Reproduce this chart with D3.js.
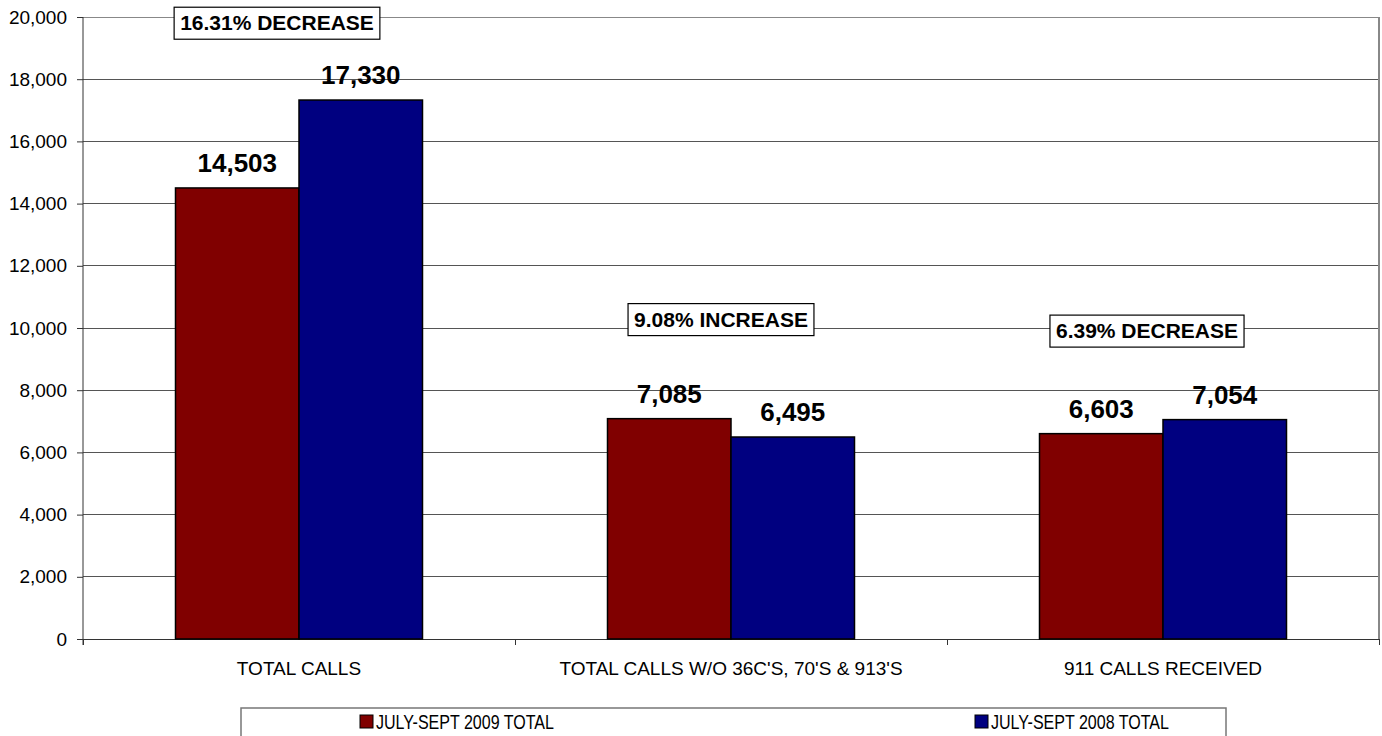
<!DOCTYPE html>
<html lang="en">
<head>
<meta charset="UTF-8">
<title>Calls comparison</title>
<style>
  body { margin: 0; background: #fff; }
  svg { display: block; font-family: Arial, "Liberation Sans", sans-serif; }
</style>
</head>
<body>
<div id="chart"></div>
<script src="https://cdn.jsdelivr.net/npm/d3@7"></script>
<script>
// data
var categories = ["TOTAL CALLS", "TOTAL CALLS W/O 36C'S, 70'S & 913'S", "911 CALLS RECEIVED"];
var seriesNames = ["JULY-SEPT 2009 TOTAL", "JULY-SEPT 2008 TOTAL"];
var values2009 = [14503, 7085, 6603];
var values2008 = [17330, 6495, 7054];
var changeLabels = ["16.31% DECREASE", "9.08% INCREASE", "6.39% DECREASE"];
var changeLevels = [19800, 10270, 9900];
var yTicks = [0, 2000, 4000, 6000, 8000, 10000, 12000, 14000, 16000, 18000, 20000];

var colors = ["#800000", "#000080"];

var W = 1382, H = 736;
var margin = { top: 17, right: 3, bottom: 97, left: 83 };
var width = W - margin.left - margin.right,
    height = H - margin.top - margin.bottom;

var svg = d3.select("#chart").append("svg")
    .attr("width", W).attr("height", H);
var g = svg.append("g")
    .attr("transform", "translate(" + margin.left + "," + margin.top + ")");

var x = d3.scaleBand().domain(categories).range([0, width]);
var groupW = 247;
var xs = d3.scaleBand().domain(seriesNames).range([0, groupW]);
var y = d3.scaleLinear().domain([0, 20000]).range([height, 0]);

// gridlines
g.selectAll(".grid").data(yTicks.filter(function (d) { return d > 0; }))
  .enter().append("line")
  .attr("x1", 0).attr("x2", width)
  .attr("y1", function (d) { return y(d); }).attr("y2", function (d) { return y(d); })
  .attr("stroke", function (d) { return d == 20000 ? "#888" : "#555"; })
  .attr("stroke-width", 1).attr("shape-rendering", "crispEdges");

// right border
g.append("line").attr("x1", width).attr("x2", width).attr("y1", 0).attr("y2", height)
  .attr("stroke", "#888").attr("stroke-width", 2).attr("shape-rendering", "crispEdges");

// y axis
var yAxis = g.append("g").call(d3.axisLeft(y).tickValues(yTicks).tickSize(6).tickSizeOuter(0)
    .tickFormat(d3.format(",")));
yAxis.select(".domain").attr("d", "M0,0V" + (height + 6)).attr("stroke", "#333");
yAxis.selectAll(".tick line").attr("stroke", "#333");
yAxis.selectAll("text").attr("font-size", "19px").attr("fill", "#000")
  .attr("x", -16).attr("font-family", "Arial, 'Liberation Sans', sans-serif");

// x axis
var xAxis = g.append("g").attr("transform", "translate(0," + height + ")");
xAxis.append("line").attr("x1", 0).attr("x2", width + 1).attr("stroke", "#333")
  .attr("shape-rendering", "crispEdges");
xAxis.selectAll(".xt").data(d3.range(categories.length + 1)).enter().append("line")
  .attr("x1", function (i) { return i * x.bandwidth(); })
  .attr("x2", function (i) { return i * x.bandwidth(); })
  .attr("y1", 0).attr("y2", 6).attr("stroke", "#333").attr("shape-rendering", "crispEdges");
xAxis.selectAll(".xl").data(categories).enter().append("text")
  .attr("x", function (d) { return x(d) + x.bandwidth() / 2; })
  .attr("y", 36).attr("text-anchor", "middle").attr("font-size", "19px")
  .text(function (d) { return d; });

// bars
var rows = categories.map(function (c, i) {
  return { cat: c, vals: [values2009[i], values2008[i]] };
});
var groups = g.selectAll(".grp").data(rows).enter().append("g")
  .attr("transform", function (d) { return "translate(" + (x(d.cat) + (x.bandwidth() - groupW) / 2) + ",0)"; });
groups.selectAll("rect").data(function (d) { return d.vals; }).enter().append("rect")
  .attr("x", function (d, i) { return xs(seriesNames[i]); })
  .attr("width", xs.bandwidth())
  .attr("y", function (d) { return y(d); })
  .attr("height", function (d) { return height - y(d); })
  .attr("fill", function (d, i) { return colors[i]; })
  .attr("stroke", "#000").attr("stroke-width", 1.5);
groups.selectAll(".val").data(function (d) { return d.vals; }).enter().append("text")
  .attr("x", function (d, i) { return xs(seriesNames[i]) + xs.bandwidth() / 2; })
  .attr("y", function (d) { return y(d) - 16; })
  .attr("text-anchor", "middle").attr("font-size", "26px").attr("font-weight", "bold")
  .text(function (d) { return d3.format(",")(d); });

// change annotations
var offsets = [-22, -10, -16];
changeLabels.forEach(function (lab, i) {
  var cx = x(categories[i]) + x.bandwidth() / 2 + offsets[i];
  var cy = y(changeLevels[i]);
  var ag = g.append("g");
  var box = ag.append("rect");
  var t = ag.append("text").attr("x", cx).attr("y", cy + 7)
    .attr("text-anchor", "middle").attr("font-size", "21px").attr("font-weight", "bold")
    .text(lab);
  var bb = t.node().getBBox();
  box.attr("x", bb.x - 6).attr("y", cy - 16)
    .attr("width", bb.width + 12).attr("height", 32)
    .attr("fill", "#fff").attr("stroke", "#000").attr("stroke-width", 1.2);
});

// legend
var lg = svg.append("g").attr("transform", "translate(241,708)");
lg.append("rect").attr("width", 985).attr("height", 40).attr("fill", "#fff")
  .attr("stroke", "#777").attr("stroke-width", 1.5);
var legX = [119, 734];
seriesNames.forEach(function (s, i) {
  lg.append("rect").attr("x", legX[i]).attr("y", 7).attr("width", 13).attr("height", 13)
    .attr("fill", colors[i]).attr("stroke", "#000").attr("stroke-width", 1);
  lg.append("text").attr("x", legX[i] + 16).attr("y", 21).attr("font-size", "20px")
    .attr("textLength", 178).attr("lengthAdjust", "spacingAndGlyphs")
    .text(s);
});
</script>
</body>
</html>
